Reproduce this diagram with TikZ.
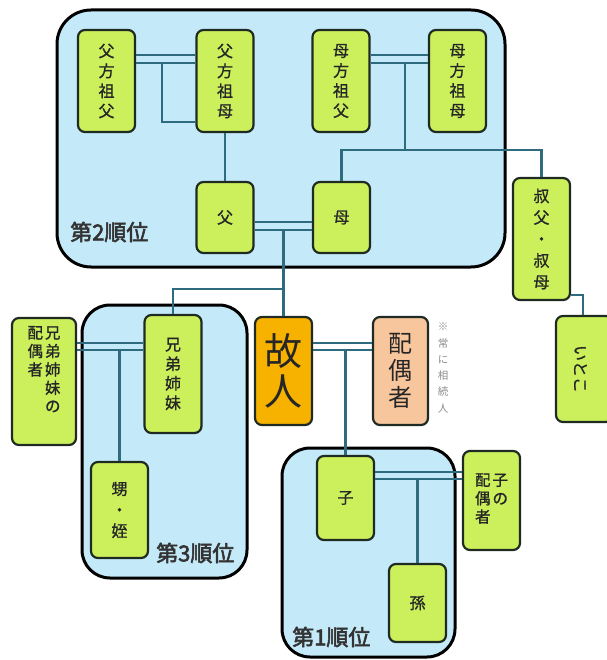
\documentclass[tikz,border=0pt]{standalone}
\usepackage{fontspec}
\usepackage{tikz}
\newfontfamily\jp[FakeBold=1]{Noto Sans CJK JP}
\newfontfamily\jpn{Noto Sans CJK JP}
\newfontfamily\jpb[FakeBold=2.5]{Noto Sans CJK JP}
\definecolor{rankblue}{HTML}{C4E9F8}
\definecolor{leaf}{HTML}{CBF05C}
\definecolor{heir}{HTML}{F7B200}
\definecolor{wife}{HTML}{F8C69D}
\definecolor{wire}{HTML}{2E6B7E}
\definecolor{rim}{HTML}{1F2A22}

\begin{document}
\begin{tikzpicture}[x=1pt, y=-1pt,
    rank/.style = {draw=black, line width=3pt, fill=rankblue, rounded corners=34pt, inner sep=0pt},
    main/.style = {draw=rim, line width=2.2pt, fill=leaf, rounded corners=7pt, inner sep=0pt,
                   minimum width=57pt, align=center, text=black!85, font=\jp\fontsize{16}{20}\selectfont},
    link/.style = {draw=wire, line width=2.3pt},
    tag/.style = {anchor=west, inner sep=0pt, text=black!80, font=\jpb\fontsize{22}{22}\selectfont}]

    \useasboundingbox (0,0) rectangle (606,660);

    % the three ranks
    \node[rank, minimum width=448pt, minimum height=257pt] (g2) at (281,138.5) {};
    \node[rank, minimum width=165pt, minimum height=273pt, rounded corners=28pt] (g3) at (164.5,441.5) {};
    \node[rank, minimum width=173pt, minimum height=209pt, rounded corners=28pt] (g1) at (368.5,552.5) {};

    \node[main, minimum height=102pt] (fgf) at (106.5,81) {父\\方\\祖\\父};
    \node[main, minimum height=102pt] (fgm) at (225,81) {父\\方\\祖\\母};
    \node[main, minimum height=102pt] (mgf) at (341,81) {母\\方\\祖\\父};
    \node[main, minimum height=102pt] (mgm) at (457.5,81) {母\\方\\祖\\母};
    \node[main, minimum height=71pt] (fa) at (225,217.5) {父};
    \node[main, minimum height=71pt] (mo) at (341.5,217.5) {母};
    \node[main, minimum height=122pt, font=\jp\fontsize{16}{21.5}\selectfont] (uncle) at (541.5,239) {叔\\父\\・\\叔\\母};
    \node[main, minimum height=106pt] (cousin) at (584.5,369) {\hspace*{-8pt}\rotatebox{-90}{いとこ}};
    \node[main, minimum height=108pt, fill=heir, font=\jpn\fontsize{38}{40}\selectfont] (dec) at (283.5,371) {故\\人};
    \node[main, minimum height=108pt, minimum width=55pt, fill=wife, font=\jpn\fontsize{24}{27}\selectfont] (spouse) at (400.5,371) {配\\偶\\者};
    \node[inner sep=0pt, align=center, text=black!45, font=\jpn\fontsize{10.5}{16.3}\selectfont] (note) at (443,368) {※\\常\\に\\相\\続\\人};

    \node[main, minimum height=118pt, font=\jp\fontsize{16}{19.5}\selectfont] (sib) at (173,374) {兄\\弟\\姉\\妹};
    \node[main, minimum height=127pt, minimum width=64pt, font=\jp\fontsize{15.5}{18}\selectfont] (sibsp) at (44,381.5)
        {\raisebox{10pt}[\height][\depth]{\begin{tabular}{@{}c@{\hspace{2pt}}c@{}}配&兄\\偶&弟\\者&姉\\&妹\\&の\end{tabular}}};
    \node[main, minimum height=96pt, font=\jp\fontsize{16}{21}\selectfont] (nep) at (119.5,510) {甥\\・\\姪};

    \node[main, minimum height=84pt] (child) at (345.5,498) {子};
    \node[main, minimum height=99pt, font=\jp\fontsize{15.5}{18}\selectfont] (chsp) at (491.5,500.5)
        {\begin{tabular}{@{}c@{\hspace{2pt}}c@{}}配&子\\偶&の\\者&\end{tabular}};
    \node[main, minimum height=78pt] (gc) at (417.5,603) {孫};

    \node[tag] (l2) at (70,232) {第2順位};
    \node[tag] (l3) at (156,553) {第3順位};
    \node[tag] (l1) at (292,637) {第1順位};

    % grandparents
    \draw[link] (fgf.east |- 0,55) -- (fgm.west |- 0,55);
    \draw[link] (fgf.east |- 0,63) -- (fgm.west |- 0,63);
    \draw[link] (162,63) |- (fgm.west |- 0,122);
    \draw[link] (fgm) -- (fa);
    \draw[link] (mgf.east |- 0,55) -- (mgm.west |- 0,55);
    \draw[link] (mgf.east |- 0,63) -- (mgm.west |- 0,63);
    \draw[link] (405,63) -- (405,150);
    \draw[link] (mo.north) |- (uncle.north |- 0,150) -- (uncle.north);
    \draw[link] (uncle.east |- 0,295) -| (583,0 |- cousin.north);

    % parents
    \draw[link] (fa.east |- 0,222) -- (mo.west |- 0,222);
    \draw[link] (fa.east |- 0,230) -- (mo.west |- 0,230);
    \draw[link] (dec.north |- 0,230) -- (dec.north);
    \draw[link] (dec.north |- 0,289) -| (sib.north);

    % deceased and below
    \draw[link] (dec.east |- 0,343) -- (spouse.west |- 0,343);
    \draw[link] (dec.east |- 0,350) -- (spouse.west |- 0,350);
    \draw[link] (child.north |- 0,350) -- (child.north);
    \draw[link] (sibsp.east |- 0,343) -- (sib.west |- 0,343);
    \draw[link] (sibsp.east |- 0,350) -- (sib.west |- 0,350);
    \draw[link] (nep.north |- 0,350) -- (nep.north);
    \draw[link] (child.east |- 0,472) -- (chsp.west |- 0,472);
    \draw[link] (child.east |- 0,479) -- (chsp.west |- 0,479);
    \draw[link] (gc.north |- 0,479) -- (gc.north);
\end{tikzpicture}
\end{document}
